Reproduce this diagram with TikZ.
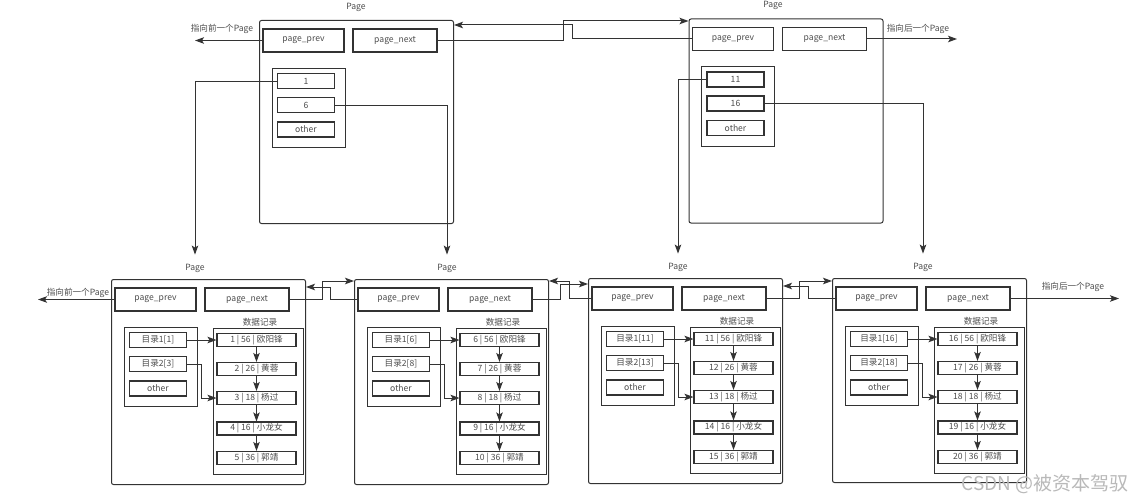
\documentclass[tikz,border=0pt]{standalone}
\usepackage{fontspec}
\setmainfont{Noto Sans CJK SC}
\usetikzlibrary{arrows.meta,calc}
\definecolor{ln}{HTML}{333333}
\definecolor{tx}{HTML}{4D4D4D}
\tikzset{
  pageframe/.style={draw=ln, line width=1pt, rounded corners=2pt, inner sep=0pt, fill=white},
  box/.style={draw=ln, line width=1.1pt, fill=white, inner sep=0pt, text=tx, font=\fontsize{8.6}{9}\selectfont},
  grp/.style={draw=ln, line width=1pt, inner sep=0pt},
  lbl/.style={text=tx, inner sep=0pt, font=\fontsize{8.6}{9}\selectfont},
  arr/.style={draw=ln, line width=1pt, -{Stealth[length=9pt,width=6.5pt,inset=2pt]}},
}
\newcommand\pagebase[6]{% id, x0, y0, h, dir1, dir2
  \node[pageframe, minimum width=194pt, minimum height=#4pt, anchor=north west] (#1) at (#2,#3) {};
  \node[box, minimum width=81pt, minimum height=23pt] (#1prev) at (#2+44.5,#3+20.5) {page\_prev};
  \node[box, minimum width=84pt, minimum height=23pt] (#1next) at (#2+136,#3+20.5) {page\_next};
  \node[grp, minimum width=73pt, minimum height=79pt] (#1dir) at (#2+49.5,#3+88) {};
  \node[box, minimum width=57pt, minimum height=15pt] (#1d1) at (#2+47,#3+61) {#5};
  \node[box, minimum width=57pt, minimum height=15pt] (#1d2) at (#2+47,#3+85) {#6};
  \node[box, minimum width=57pt, minimum height=15pt] (#1d3) at (#2+47,#3+109.5) {other};
}
\newcommand\datapart[4]{% id, x0, y0, first record number
  \node[lbl] (#1dlbl) at (#2+149,#3+43) {数据记录};
  \node[grp, minimum width=90pt, minimum height=146pt] (#1data) at (#2+147,#3+122) {};
  \node[box, minimum width=79pt, minimum height=13pt] (#1r1) at (#2+145.5,#3+61) {#4 | 56 | 欧阳锋};
  \node[box, minimum width=79pt, minimum height=13pt] (#1r2) at (#2+145.5,#3+90) {\the\numexpr#4+1\relax{} | 26 | 黄蓉};
  \node[box, minimum width=79pt, minimum height=13pt] (#1r3) at (#2+145.5,#3+119) {\the\numexpr#4+2\relax{} | 18 | 杨过};
  \node[box, minimum width=79pt, minimum height=13pt] (#1r4) at (#2+145.5,#3+149.5) {\the\numexpr#4+3\relax{} | 16 | 小龙女};
  \node[box, minimum width=79pt, minimum height=13pt] (#1r5) at (#2+145.5,#3+179) {\the\numexpr#4+4\relax{} | 36 | 郭靖};
  \draw[arr] (#1r1.south) -- (#1r2.north);
  \draw[arr] (#1r2.south) -- (#1r3.north);
  \draw[arr] (#1r3.south) -- (#1r4.north);
  \draw[arr] (#1r4.south) -- (#1r5.north);
  \draw[arr] (#1d1.east) -- (#1d1.east -| #1r1.west);
  \draw[arr] (#1d2.east) -| ([xshift=-15pt]#1r3.west) -- (#1r3.west);
}
\begin{document}
\begin{tikzpicture}[x=1pt,y=-1pt]
\useasboundingbox (0,0) rectangle (1148,503);
\fill[white] (0,0) rectangle (1148,503);

% top pages
\pagebase{T1}{259}{20}{203}{1}{6}
\pagebase{T2}{688.5}{18.5}{204}{11}{16}
\node[lbl] (LT1) at (356,7) {Page};
\node[lbl] (LT2) at (773,5) {Page};

% bottom pages
\pagebase{B1}{111}{279}{205}{目录1[1]}{目录2[3]}
\datapart{B1}{111}{279}{1}
\pagebase{B2}{354}{279}{205}{目录1[6]}{目录2[8]}
\datapart{B2}{354}{279}{6}
\pagebase{B3}{588}{278}{205}{目录1[11]}{目录2[13]}
\datapart{B3}{588}{278}{11}
\pagebase{B4}{832}{278}{204}{目录1[16]}{目录2[18]}
\datapart{B4}{832}{278}{16}
\node[lbl] (LB1) at (195,268) {Page};
\node[lbl] (LB2) at (447,268) {Page};
\node[lbl] (LB3) at (678,267) {Page};
\node[lbl] (LB4) at (923,267) {Page};

% index to child pages
\draw[arr] (T1d1.west) -| ([yshift=9pt]LB1.north);
\draw[arr] (T1d2.east) -| ([yshift=9pt]LB2.north);
\draw[arr] (T2d1.west) -| ([yshift=9pt]LB3.north);
\draw[arr] (T2d2.east) -| ([yshift=9pt]LB4.north);

% outer prev / next pointers
\coordinate (eT1) at (195,0);
\coordinate (eT2) at (957,0);
\coordinate (eB1) at (38,0);
\coordinate (eB4) at (1119,0);
\draw[arr] (T1prev.west) -- (T1prev.west -| eT1);
\draw[arr] (T2next.east) -- (T2next.east -| eT2);
\draw[arr] (B1prev.west) -- (B1prev.west -| eB1);
\draw[arr] (B4next.east) -- (B4next.east -| eB4);
\node[lbl] (xT1) at (222,29) {指向前一个Page};
\node[lbl] (xT2) at (918,29) {指向后一个Page};
\node[lbl] (xB1) at (78,293) {指向前一个Page};
\node[lbl] (xB4) at (1073,287) {指向后一个Page};

% top page links
\coordinate (tA) at (563,21);
\coordinate (tB) at (572,25);
\draw[arr] (T1next.east) -| (tA) -- (tA -| T2.west);
\draw[arr] (T2prev.west) -| (tB) -- (tB -| T1.east);

% bottom page links
\coordinate (a12) at (322,281);
\coordinate (b12) at (330,287);
\draw[arr] (B1next.east) -| (a12) -- (a12 -| B2.west);
\draw[arr] (B2prev.west) -| (b12) -- (b12 -| B1.east);
\coordinate (a23) at (560,284);
\coordinate (b23) at (569,281);
\draw[arr] (B2next.east) -| (a23) -- (a23 -| B3.west);
\draw[arr] (B3prev.west) -| (b23) -- (b23 -| B2.east);
\coordinate (a34) at (799,281);
\coordinate (b34) at (808,286);
\draw[arr] (B3next.east) -| (a34) -- (a34 -| B4.west);
\draw[arr] (B4prev.west) -| (b34) -- (b34 -| B3.east);

% watermark
\node[font=\fontsize{19}{20}\selectfont, text=gray!55, inner sep=0pt] (wm) at (1045,484) {CSDN @被资本驾驭};
\end{tikzpicture}
\end{document}
